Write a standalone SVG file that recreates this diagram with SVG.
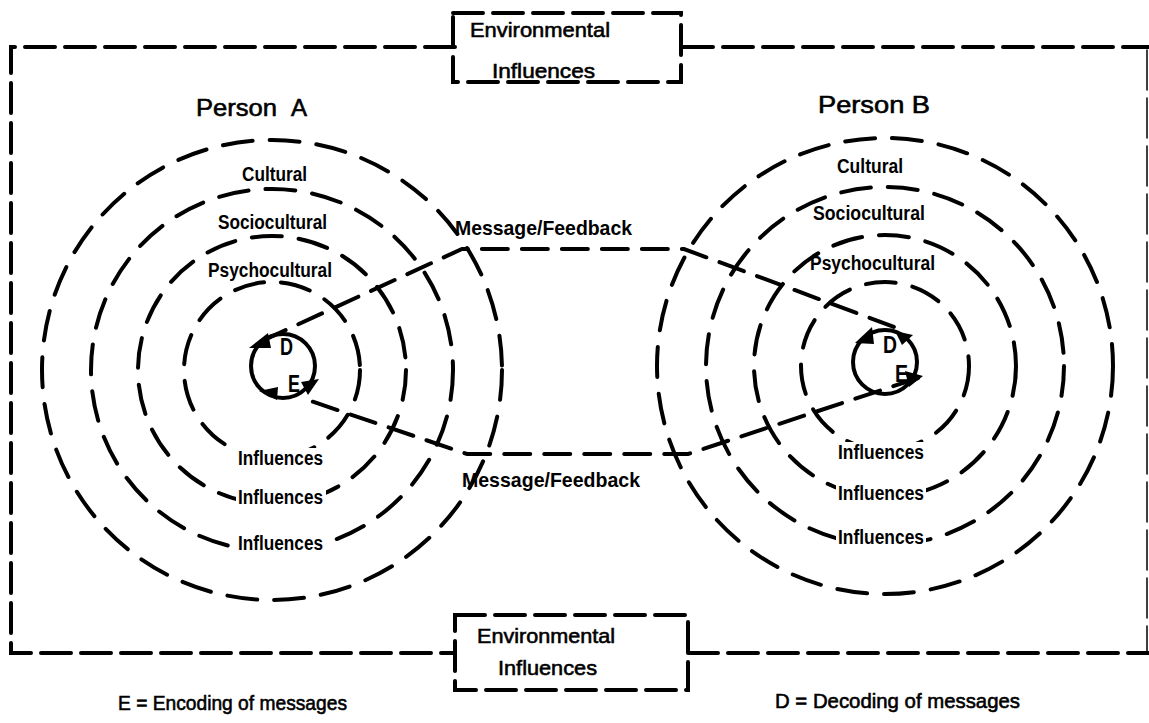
<svg xmlns="http://www.w3.org/2000/svg" width="1149" height="723" viewBox="0 0 1149 723">
<style>
.ln{fill:none;stroke:#000;stroke-linecap:round}
.frame{stroke-width:4;stroke-dasharray:30 10}
.ring{stroke-width:4;stroke-dasharray:30 17}
.msg{stroke-width:4;stroke-dasharray:26 14}
.solid{fill:none;stroke:#000;stroke-width:4}
.t{font-family:"Liberation Sans",Arial,sans-serif;fill:#000}
.n{stroke:#000;stroke-width:0.6}
.lab{font-size:20px;font-weight:bold}
.de{font-size:24px;font-weight:bold}
.big{font-size:24px}
.mid{font-size:21px}
.msgt{font-size:21px;font-weight:bold}
.leg{font-size:21px}
.ah{fill:#000}
.mask{fill:#fff}
</style>
<rect width="1149" height="723" fill="#fff"/>
<g id="frame">
<path class="ln frame" d="M455,47 H11 V653 H455"/>
<path class="ln frame" d="M683,47 H1149"/>
<path class="ln frame" d="M688,653 H1149"/>
<path class="ln" style="stroke-width:1.5;stroke-dasharray:40 8" d="M1147,50 V653"/>
</g>
<g id="env-top">
<rect class="ln frame" x="453" y="13" width="228" height="69"/>
<text class="t mid n" x="470" y="37" textLength="140" lengthAdjust="spacingAndGlyphs">Environmental</text>
<text class="t mid n" x="492" y="78" textLength="103" lengthAdjust="spacingAndGlyphs">Influences</text>
</g>
<g id="env-bottom">
<rect class="ln frame" x="455" y="615" width="233" height="75"/>
<text class="t mid n" x="477" y="643" textLength="138" lengthAdjust="spacingAndGlyphs">Environmental</text>
<text class="t mid n" x="498" y="675" textLength="99" lengthAdjust="spacingAndGlyphs">Influences</text>
</g>
<g id="personA">
<text class="t big n" x="196" y="116" textLength="81" lengthAdjust="spacingAndGlyphs">Person</text>
<text class="t big n" x="291" y="116">A</text>
<circle class="ln ring" cx="272" cy="370" r="230"/>
<circle class="ln ring" cx="272" cy="370" r="181"/>
<circle class="ln ring" cx="272" cy="370" r="134"/>
<circle class="ln ring" cx="272" cy="370" r="88"/>
<circle class="solid" cx="283" cy="366" r="32"/>
<rect class="mask" x="236" y="448" width="90" height="22"/>
<rect class="mask" x="236" y="487" width="90" height="22"/>
<rect class="mask" x="236" y="533" width="90" height="22"/>
<text class="t lab" x="242" y="181" textLength="65" lengthAdjust="spacingAndGlyphs">Cultural</text>
<text class="t lab" x="218" y="229" textLength="109" lengthAdjust="spacingAndGlyphs">Sociocultural</text>
<text class="t lab" x="208" y="277" textLength="124" lengthAdjust="spacingAndGlyphs">Psychocultural</text>
<text class="t lab" x="238" y="465" textLength="85" lengthAdjust="spacingAndGlyphs">Influences</text>
<text class="t lab" x="238" y="504" textLength="85" lengthAdjust="spacingAndGlyphs">Influences</text>
<text class="t lab" x="238" y="550" textLength="85" lengthAdjust="spacingAndGlyphs">Influences</text>
<text class="t de" x="280" y="355" textLength="13" lengthAdjust="spacingAndGlyphs">D</text>
<text class="t de" x="288" y="392" textLength="12" lengthAdjust="spacingAndGlyphs">E</text>
<polygon class="ah" points="249,348 268,333 271,348"/>
<polygon class="ah" points="319,379 301,382 308,395"/>
<polygon class="ah" points="259,391 278,387 277,400"/>
</g>
<g id="personB">
<text class="t big n" x="818" y="113" textLength="112" lengthAdjust="spacingAndGlyphs">Person B</text>
<circle class="ln ring" cx="885" cy="366" r="228"/>
<circle class="ln ring" cx="885" cy="366" r="179"/>
<circle class="ln ring" cx="885" cy="366" r="131"/>
<circle class="ln ring" cx="885" cy="366" r="84"/>
<circle class="solid" cx="885" cy="362" r="32"/>
<rect class="mask" x="836" y="442" width="90" height="22"/>
<rect class="mask" x="836" y="483" width="90" height="22"/>
<rect class="mask" x="836" y="527" width="90" height="22"/>
<text class="t lab" x="837" y="173" textLength="66" lengthAdjust="spacingAndGlyphs">Cultural</text>
<text class="t lab" x="813" y="220" textLength="112" lengthAdjust="spacingAndGlyphs">Sociocultural</text>
<text class="t lab" x="810" y="270" textLength="125" lengthAdjust="spacingAndGlyphs">Psychocultural</text>
<text class="t lab" x="838" y="459" textLength="86" lengthAdjust="spacingAndGlyphs">Influences</text>
<text class="t lab" x="838" y="500" textLength="86" lengthAdjust="spacingAndGlyphs">Influences</text>
<text class="t lab" x="838" y="544" textLength="86" lengthAdjust="spacingAndGlyphs">Influences</text>
<text class="t de" x="883" y="353" textLength="14" lengthAdjust="spacingAndGlyphs">D</text>
<text class="t de" x="895" y="382" textLength="13" lengthAdjust="spacingAndGlyphs">E</text>
<polygon class="ah" points="855,343 872,327 874,344"/>
<polygon class="ah" points="913,335 895,331 902,345"/>
<polygon class="ah" points="923,376 905,371 909,387"/>
</g>
<g id="connectors">
<path class="ln msg" d="M262,341 L462,249 H684 L905,331"/>
<path class="ln msg" d="M918,378 L688,454 H467 L302,398"/>
<text class="t msgt" x="455" y="235" textLength="177" lengthAdjust="spacingAndGlyphs">Message/Feedback</text>
<text class="t msgt" x="462" y="487" textLength="178" lengthAdjust="spacingAndGlyphs">Message/Feedback</text>
</g>
<g id="legend">
<text class="t leg n" x="118" y="710" textLength="229" lengthAdjust="spacingAndGlyphs">E = Encoding of messages</text>
<text class="t leg n" x="775" y="708" textLength="245" lengthAdjust="spacingAndGlyphs">D = Decoding of messages</text>
</g>
</svg>
